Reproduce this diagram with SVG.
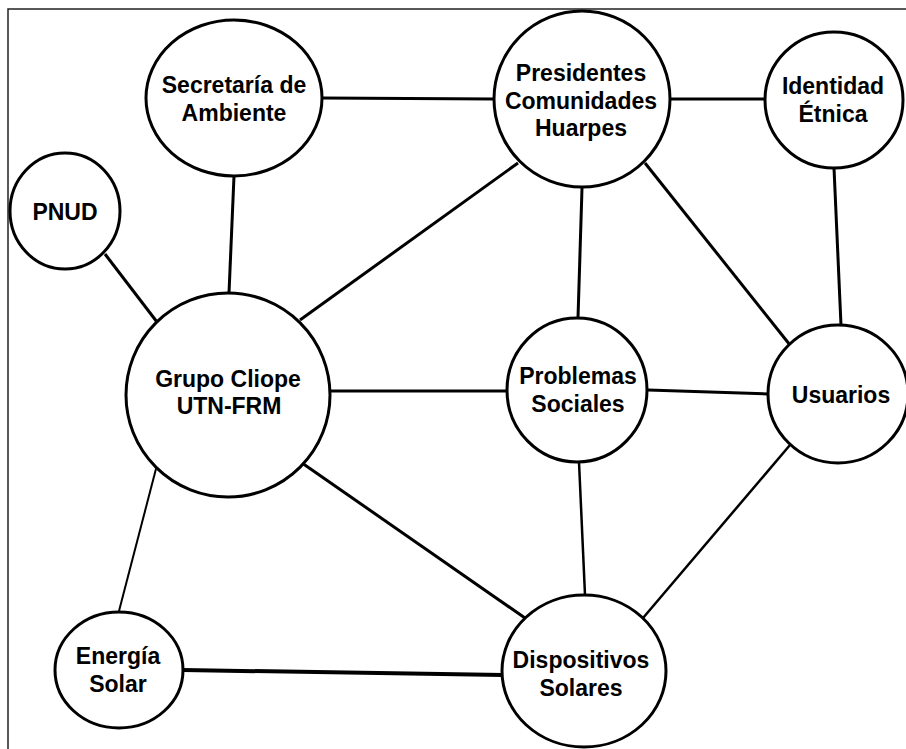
<svg xmlns="http://www.w3.org/2000/svg" width="906" height="749" viewBox="0 0 906 749">
<style>
.n{fill:#fff;stroke:#000;stroke-width:3}
.t{font-family:"Liberation Sans",Arial,sans-serif;font-weight:bold;font-size:23px;fill:#000;text-anchor:middle}
.c line{stroke:#000;stroke-width:3;stroke-linecap:butt}
</style>
<rect x="0" y="0" width="906" height="749" fill="#fff"/>
<rect x="8" y="9" width="920" height="760" fill="none" stroke="#222" stroke-width="1.5"/>
<g id="connectors" class="c">
<line x1="322" y1="98" x2="494" y2="99"/>
<line x1="670" y1="99" x2="765" y2="99"/>
<line x1="234" y1="176" x2="229" y2="293"/>
<line x1="105" y1="254" x2="157" y2="322"/>
<line x1="518" y1="163" x2="300" y2="320"/>
<line x1="582" y1="188" x2="578" y2="318"/>
<line x1="645" y1="163" x2="790" y2="345"/>
<line x1="834" y1="168" x2="841" y2="325"/>
<line x1="330" y1="391" x2="507" y2="391"/>
<line x1="648" y1="390" x2="768" y2="394"/>
<line x1="302" y1="463" x2="525" y2="618"/>
<line x1="157" y1="465" x2="119" y2="611" style="stroke-width:2"/>
<line x1="579" y1="462" x2="585" y2="595" style="stroke-width:2.5"/>
<line x1="790" y1="445" x2="643" y2="618" style="stroke-width:2.5"/>
<line x1="183" y1="670" x2="503" y2="675" style="stroke-width:4"/>
</g>
<g id="secretaria">
<ellipse class="n" cx="234" cy="98" rx="88" ry="78"/>
<text class="t" x="234" y="93">Secretaría de</text>
<text class="t" x="234" y="121">Ambiente</text>
</g>
<g id="pnud">
<ellipse class="n" cx="65" cy="211" rx="55" ry="58"/>
<text class="t" x="65" y="220">PNUD</text>
</g>
<g id="presidentes">
<ellipse class="n" cx="582" cy="99" rx="88" ry="88"/>
<text class="t" x="581" y="81">Presidentes</text>
<text class="t" x="581" y="109">Comunidades</text>
<text class="t" x="581" y="136">Huarpes</text>
</g>
<g id="identidad">
<ellipse class="n" cx="834" cy="100" rx="69" ry="68"/>
<text class="t" x="833" y="94">Identidad</text>
<text class="t" x="833" y="122">Étnica</text>
</g>
<g id="grupo">
<ellipse class="n" cx="228" cy="395" rx="102" ry="102"/>
<text class="t" x="228" y="387">Grupo Cliope</text>
<text class="t" x="229" y="414">UTN-FRM</text>
</g>
<g id="problemas">
<ellipse class="n" cx="577" cy="390" rx="70" ry="72"/>
<text class="t" x="578" y="384">Problemas</text>
<text class="t" x="578" y="412">Sociales</text>
</g>
<g id="usuarios">
<ellipse class="n" cx="838" cy="394" rx="70" ry="69"/>
<text class="t" x="841" y="403">Usuarios</text>
</g>
<g id="energia">
<ellipse class="n" cx="119" cy="670" rx="64" ry="58"/>
<text class="t" x="118" y="664">Energía</text>
<text class="t" x="118" y="692">Solar</text>
</g>
<g id="dispositivos">
<ellipse class="n" cx="584" cy="671" rx="82" ry="76"/>
<text class="t" x="581" y="668">Dispositivos</text>
<text class="t" x="581" y="696">Solares</text>
</g>
</svg>
